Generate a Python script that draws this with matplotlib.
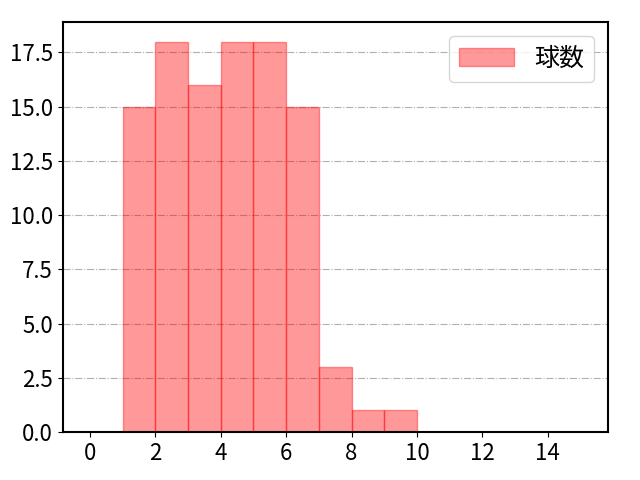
import matplotlib
matplotlib.use("Agg")
import matplotlib.pyplot as plt
import numpy as np

plt.rcParams['font.family'] = ['Noto Sans CJK JP', 'DejaVu Sans']
plt.rcParams['font.size'] = 16

bin_edges = [1, 2, 3, 4, 5, 6, 7, 8, 9, 10]
counts = [15, 18, 16, 18, 18, 15, 3, 1, 1]
label = "球数"
xticks = [0, 2, 4, 6, 8, 10, 12, 14]

fig = plt.figure(figsize=(6.4, 4.8), dpi=100)
ax = fig.add_axes([0.098, 0.1, 0.852, 0.854])
ax.hist(bin_edges[:-1], bins=bin_edges, weights=counts, color='red', alpha=0.4,
        edgecolor='red', linewidth=1, label=label, zorder=2)
ax.set_xlim(-0.83, 15.84)
ax.set_ylim(0, 18.9)
ax.set_xticks(xticks)
ax.set_yticks(np.arange(0, 18, 2.5))
ax.yaxis.grid(True, linestyle='-.', color='#b0b0b0', linewidth=0.8, zorder=0)
ax.set_axisbelow(True)
for s in ax.spines.values():
    s.set_linewidth(1.5)
ax.tick_params(labelsize=16)
ax.legend(loc='upper right', handlelength=2.2, fontsize=18, borderaxespad=0.55)
fig.savefig("out.png", dpi=100)
